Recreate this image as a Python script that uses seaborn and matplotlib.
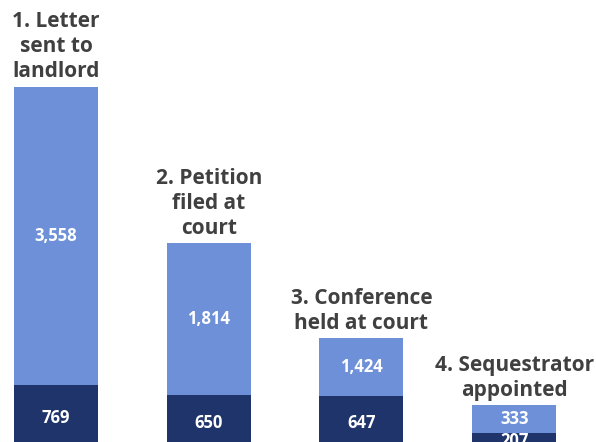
import pandas as pd
import seaborn as sns
import matplotlib.pyplot as plt

# stages of the process, bottom (dark) and top (light) counts as printed
stages = ["1. Letter\nsent to\nlandlord", "2. Petition\nfiled at\ncourt",
          "3. Conference\nheld at court", "4. Sequestrator\nappointed"]
bottom_counts = [769, 650, 647, 207]
top_counts = [3558, 1814, 1424, 333]
# the source draws the third light segment shorter than its label says
top_drawn = [3558, 1814, 690, 333]

dark = "#1E346B"
light = "#6E90D8"
text_grey = "#404040"

df = pd.DataFrame({
    "stage": stages,
    "bottom": bottom_counts,
    "total": [b + t for b, t in zip(bottom_counts, top_drawn)],
})

sns.set_style("white")
plt.rcParams["font.family"] = ["Open Sans", "DejaVu Sans"]

fig = plt.figure(figsize=(5.96, 4.42), dpi=100)
ax = fig.add_axes([0, 0, 1, 1])

sns.barplot(data=df, x="stage", y="total", color=light, width=0.55,
            saturation=1, linewidth=0, ax=ax)
sns.barplot(data=df, x="stage", y="bottom", color=dark, width=0.55,
            saturation=1, linewidth=0, ax=ax)

for i, (b, t, td) in enumerate(zip(bottom_counts, top_counts, top_drawn)):
    ax.text(i, b / 2, f"{b:,}", ha="center", va="center", color="white",
            fontsize=12, fontweight="bold")
    ax.text(i, b + td / 2, f"{t:,}", ha="center", va="center", color="white",
            fontsize=12, fontweight="bold")
    ax.annotate(stages[i], (i, b + td), xytext=(0, 6.5), textcoords="offset points",
                ha="center", va="baseline", color=text_grey, fontsize=15,
                fontweight="bold", linespacing=1.25)

ax.set_xlim(-0.367, 3.536)
ax.set_ylim(95, 5357)
ax.axis("off")

fig.savefig("out.png", dpi=100)
